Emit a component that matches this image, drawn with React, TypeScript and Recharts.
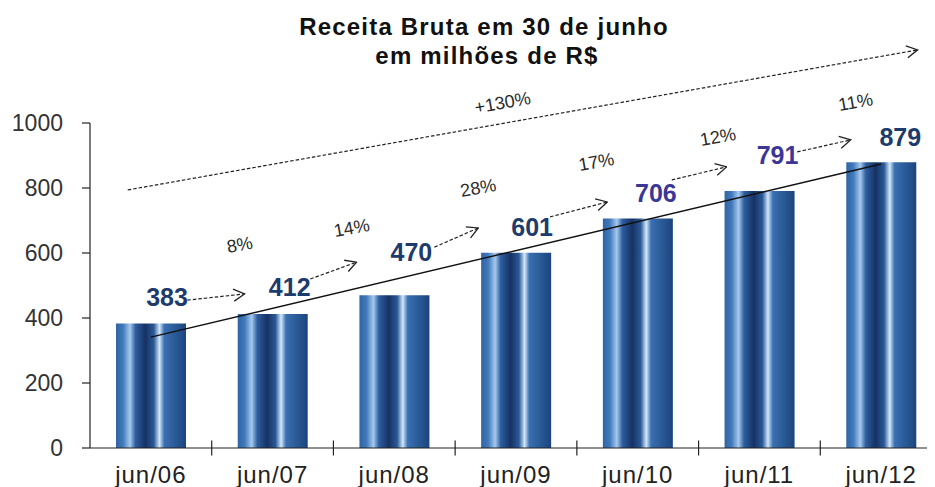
import React from 'react';
import { BarChart, Bar, XAxis, YAxis, ReferenceLine, ReferenceDot, LabelList } from 'recharts';

// ---- data ----
const categories = ['jun/06', 'jun/07', 'jun/08', 'jun/09', 'jun/10', 'jun/11', 'jun/12'];
const revenue = [383, 412, 470, 601, 706, 791, 879];
const yTicks = [0, 200, 400, 600, 800, 1000];
const growthLabels = ['8%', '14%', '28%', '17%', '12%', '11%'];
const totalGrowthLabel = '+130%';
const titleLines = ['Receita Bruta em 30 de junho', 'em milhões de R$'];

// ---- annotation layout (hidden numeric x axis 0..7, value axis units) ----
const slotTicks = [0, 1, 2, 3, 4, 5, 6, 7];
const growthArrows = [
  [[0.8, 455], [1.27, 474]],
  [[1.81, 520], [2.19, 572]],
  [[2.83, 618], [3.19, 677]],
  [[3.78, 711], [4.25, 757]],
  [[4.78, 825], [5.23, 865]],
  [[5.81, 911], [6.25, 948]],
];
const growthLabelPos = [
  [1.23, 625],
  [2.15, 677],
  [3.19, 800],
  [4.16, 880],
  [5.16, 957],
  [6.29, 1064],
];
const totalArrow = [[0.31, 794], [6.8, 1225]];
const totalLabelPos = [3.39, 1062];
const trendSegment = [[0.5, 341], [6.5, 874]];
const boundaryTicks = [1, 2, 3, 4, 5, 6];

// ---- styles ----
const FONT = '"Liberation Sans", Arial, Helvetica, sans-serif';
const labelColors = ['#1d3b6c', '#1d3b6c', '#1d3b6c', '#1d3b6c', '#3b3796', '#3b3796', '#1d3b6c'];
const labelDx = [16, 17, 17, 16, 18, 18, 19];
const labelDy = [-27, -27, -43, -26, -26, -36, -25];

const data = categories.map((name, i) => ({ name, value: revenue[i], slot: i + 0.5 }));

const ArrowLine = (p: any) => (
  <line
    x1={p.x1}
    y1={p.y1}
    x2={p.x2}
    y2={p.y2}
    stroke="#222"
    strokeWidth={1.2}
    strokeDasharray="3.5 2"
    markerEnd="url(#openArrow)"
  />
);

const SolidLine = (p: any) => (
  <line x1={p.x1} y1={p.y1} x2={p.x2} y2={p.y2} stroke="#111" strokeWidth={1.4} />
);

const TickLine = (p: any) => (
  <line x1={p.x1} y1={p.y1} x2={p.x2} y2={p.y2} stroke="#222" strokeWidth={1.2} />
);

const makeTextShape = (text: string) => (p: any) => (
  <text
    x={p.cx}
    y={p.cy}
    textAnchor="middle"
    dominantBaseline="central"
    transform={`rotate(-10 ${p.cx} ${p.cy})`}
    fontFamily={FONT}
    fontSize={18}
    fill="#2a2a2a"
  >
    {text}
  </text>
);

const ValueLabel = (props: any) => {
  const { x, y, width, value } = props;
  let index = props.index;
  if (index === undefined || index === null) index = revenue.indexOf(Number(value));
  const cx = Number(x) + Number(width) / 2 + labelDx[index];
  const cy = Number(y) + labelDy[index];
  return (
    <text
      x={cx}
      y={cy}
      textAnchor="middle"
      dominantBaseline="central"
      fontFamily={FONT}
      fontSize={25}
      fontWeight="bold"
      fill={labelColors[index]}
    >
      {value}
    </text>
  );
};

export default function App() {
  return (
    <div style={{ position: 'relative', width: 927, height: 479, overflow: 'hidden', background: '#fff' }}>
      <svg width={0} height={0} style={{ position: 'absolute' }}>
        <defs>
          <linearGradient id="barGrad" x1="0" y1="0" x2="1" y2="0">
            <stop offset="0" stopColor="#2f64a6" />
            <stop offset="0.1" stopColor="#4079bb" />
            <stop offset="0.2" stopColor="#a6c9ee" />
            <stop offset="0.28" stopColor="#2d5d9e" />
            <stop offset="0.42" stopColor="#163264" />
            <stop offset="0.54" stopColor="#2a5997" />
            <stop offset="0.62" stopColor="#d3e8fb" />
            <stop offset="0.69" stopColor="#3a6fb1" />
            <stop offset="0.86" stopColor="#285893" />
            <stop offset="1" stopColor="#1c447f" />
          </linearGradient>
          <marker
            id="openArrow"
            viewBox="0 0 13 14"
            refX="12"
            refY="7"
            markerWidth="13"
            markerHeight="14"
            markerUnits="userSpaceOnUse"
            orient="auto"
          >
            <path d="M1,1 L12,7 L1,13" fill="none" stroke="#222" strokeWidth={1.3} strokeDasharray="none" />
          </marker>
        </defs>
      </svg>
      <svg
        width={927}
        height={80}
        style={{ position: 'absolute', left: 0, top: 0, pointerEvents: 'none' }}
      >
        <text x={476} y={27} textAnchor="middle" fontFamily={FONT} fontSize={24} fontWeight="bold" letterSpacing={1.2} fill="#111">
          {titleLines[0]}
        </text>
        <text x={479} y={56} textAnchor="middle" fontFamily={FONT} fontSize={24} fontWeight="bold" letterSpacing={1.2} fill="#111">
          {titleLines[1]}
        </text>
      </svg>
      <BarChart
        width={934}
        height={479}
        data={data}
        margin={{ top: 115, right: 0, bottom: 0, left: 0 }}
        barSize={70}
      >
        <XAxis
          dataKey="name"
          height={39}
          tickLine={false}
          tickSize={0}
          tickMargin={18}
          axisLine={{ stroke: '#222', strokeWidth: 1.2 }}
          tick={{ fontFamily: FONT, fontSize: 24, fill: '#222', letterSpacing: 1 }}
          interval={0}
        />
        <XAxis
          xAxisId="num"
          dataKey="slot"
          type="number"
          scale="linear"
          domain={[0, 7]}
          ticks={slotTicks}
          hide
          allowDataOverflow
        />
        <YAxis
          width={82}
          domain={[0, 1000]}
          ticks={yTicks}
          tickSize={8}
          tickMargin={19}
          axisLine={{ stroke: '#222', strokeWidth: 1.2 }}
          tickLine={{ stroke: '#222', strokeWidth: 1.2 }}
          tick={{ fontFamily: FONT, fontSize: 23, fill: '#333' }}
          allowDataOverflow
        />
        <Bar dataKey="value" fill="url(#barGrad)" isAnimationActive={false}>
          <LabelList dataKey="value" content={ValueLabel} />
        </Bar>
        {boundaryTicks.map((k) => (
          <ReferenceLine
            key={`bt${k}`}
            xAxisId="num"
            segment={[{ x: k, y: -23 }, { x: k, y: 23 }]}
            ifOverflow="visible"
            shape={TickLine}
          />
        ))}
        <ReferenceLine
          xAxisId="num"
          segment={[
            { x: trendSegment[0][0], y: trendSegment[0][1] },
            { x: trendSegment[1][0], y: trendSegment[1][1] },
          ]}
          ifOverflow="visible"
          shape={SolidLine}
        />
        {growthArrows.map((a, i) => (
          <ReferenceLine
            key={`ga${i}`}
            xAxisId="num"
            segment={[{ x: a[0][0], y: a[0][1] }, { x: a[1][0], y: a[1][1] }]}
            ifOverflow="visible"
            shape={ArrowLine}
          />
        ))}
        <ReferenceLine
          xAxisId="num"
          segment={[
            { x: totalArrow[0][0], y: totalArrow[0][1] },
            { x: totalArrow[1][0], y: totalArrow[1][1] },
          ]}
          ifOverflow="visible"
          shape={ArrowLine}
        />
        {growthLabels.map((t, i) => (
          <ReferenceDot
            key={`gl${i}`}
            xAxisId="num"
            x={growthLabelPos[i][0]}
            y={growthLabelPos[i][1]}
            ifOverflow="visible"
            shape={makeTextShape(t)}
          />
        ))}
        <ReferenceDot
          xAxisId="num"
          x={totalLabelPos[0]}
          y={totalLabelPos[1]}
          ifOverflow="visible"
          shape={makeTextShape(totalGrowthLabel)}
        />
      </BarChart>
    </div>
  );
}
